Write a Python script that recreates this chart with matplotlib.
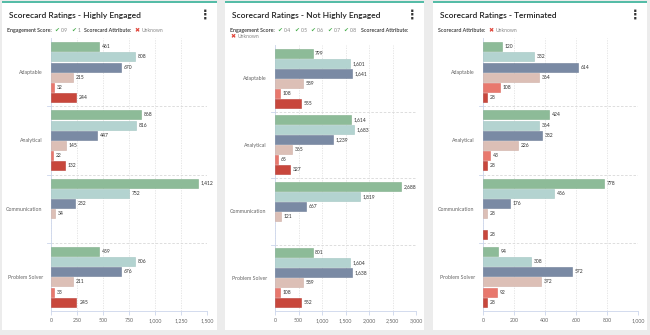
import matplotlib
matplotlib.use("Agg")
import matplotlib.pyplot as plt
from matplotlib.patches import Rectangle
from matplotlib.ticker import FuncFormatter

W, H = 650, 335
FONT = ["Lato", "DejaVu Sans"]
plt.rcParams["font.family"] = FONT

categories = ["Adaptable", "Analytical", "Communication", "Problem Solver"]

# one row per series, one column per category (None = no bar)
highly_engaged = [
    [461, 868, 1412, 459],
    [808, 816, 752, 806],
    [670, 447, 232, 676],
    [215, 145, 34, 211],
    [32, 22, None, 33],
    [244, 132, None, 245],
]
not_highly_engaged = [
    [799, 1614, 2688, 801],
    [1601, 1683, 1819, 1604],
    [1641, 1239, 667, 1638],
    [589, 365, 121, 589],
    [108, 65, None, 108],
    [555, 327, None, 552],
]
terminated = [
    [120, 424, 778, 94],
    [332, 364, 456, 308],
    [614, 382, 176, 572],
    [364, 226, 28, 372],
    [108, 43, None, 92],
    [28, 28, 28, 28],
]

titles = [
    "Scorecard Ratings - Highly Engaged",
    "Scorecard Ratings - Not Highly Engaged",
    "Scorecard Ratings - Terminated",
]
score_filters = [["0.9", "1"], ["0.4", "0.5", "0.6", "0.7", "0.8"], []]
x_max = [1500, 3000, 1000]
x_step = [250, 500, 200]

colors = ["#8dbb98", "#b3d3d0", "#7a8aa4", "#dcbfb6", "#e8786d", "#c8473c"]
edges = ["#7fae8a", "#a3c6c3", "#6d7d97", "#cfb0a7", "#dc6a5f", "#b93d33"]

# card (left, right) and plot area (left, top, right, bottom) in pixels
cards = [(2, 217), (225, 424), (433, 647)]
plots = [(51, 38, 207, 311), (275, 45, 416, 311), (483, 38, 638, 311)]


def px_rect(l, t, r, b):
    return [l / W, 1 - b / H, (r - l) / W, (b - t) / H]


fig = plt.figure(figsize=(W / 100, H / 100), dpi=100)
fig.patch.set_facecolor("#ececec")

for l, r in cards:
    fig.patches.append(Rectangle((l / W, 1 - 330 / H), (r - l) / W, 328 / H,
                                 transform=fig.transFigure, facecolor="white",
                                 edgecolor="none", zorder=-3))
    fig.patches.append(Rectangle((l / W, 1 - 3 / H), (r - l) / W, 2 / H,
                                 transform=fig.transFigure, facecolor="#55bca7",
                                 edgecolor="none", zorder=-2))

fig.canvas.draw()
renderer = fig.canvas.get_renderer()


def put(x, y, s, **kw):
    t = fig.text(x / W, 1 - y / H, s, va="center", **kw)
    bb = t.get_window_extent(renderer)
    return x + bb.width


datasets = [highly_engaged, not_highly_engaged, terminated]

for p, data in enumerate(datasets):
    cl, cr = cards[p]
    # header
    fig.text((cl + 7) / W, 1 - 15.5 / H, titles[p], fontsize=6.0,
             fontweight="semibold", color="#222222", va="center")
    fig.text((cr - 12) / W, 1 - 15.5 / H, "\u22ee", fontsize=9,
             fontweight="bold", color="#333333", va="center", ha="center",
             family=["DejaVu Sans"])

    # filter legend row(s)
    x, y = cl + 5, 30.5
    lw = cr - 8
    if score_filters[p]:
        x = put(x, y, "Engagement Score:", fontsize=3.8, color="#333333",
                fontweight="semibold") + 3
        for s in score_filters[p]:
            x = put(x, y, "\u2714", fontsize=4.2, color="#4caf50",
                    family=["DejaVu Sans"]) + 1.5
            x = put(x, y, s, fontsize=3.7, color="#888888") + 3
        x += 1
    x = put(x, y, "Scorecard Attribute:", fontsize=3.8, color="#333333",
            fontweight="semibold") + 3
    if x + 28 > lw:
        x, y = cl + 5, 37
    x = put(x, y, "\u2716", fontsize=4.4, color="#e0453a",
            family=["DejaVu Sans"]) + 2
    put(x, y, "Unknown", fontsize=3.7, color="#888888")

    ax = fig.add_axes(px_rect(*plots[p]))
    ax.set_facecolor("none")
    n = len(data)
    slot = 0.9 / n
    for k, row in enumerate(data):
        for i, v in enumerate(row):
            if v is None:
                continue
            yc = i - 0.45 + slot * (k + 0.5)
            ax.barh(yc, v, height=slot * 0.88, color=colors[k],
                    edgecolor=edges[k], linewidth=0.4, zorder=3)
            ax.text(v + x_max[p] * 0.018, yc, f"{v:,}", fontsize=3.6,
                    color="#333333", va="center", ha="left", zorder=4)

    ax.set_xlim(0, x_max[p])
    ax.set_ylim(len(categories) - 0.5, -0.5)
    ax.set_xticks(range(0, x_max[p] + 1, x_step[p]))
    ax.xaxis.set_major_formatter(FuncFormatter(lambda v, _: f"{int(v):,}"))
    ax.tick_params(axis="x", labelsize=3.8, colors="#ccd6eb", labelcolor="#666666",
                   length=3, width=0.6, pad=2)
    ax.set_yticks(range(len(categories)))
    ax.set_yticklabels(categories)
    ax.tick_params(axis="y", labelsize=3.8, labelcolor="#666666", length=0, pad=6)

    # dashed separators between categories and dotted vertical grid
    for b in [i + 0.5 for i in range(len(categories) - 1)]:
        ax.axhline(b, color="#d8d8d8", linewidth=0.6, linestyle=(0, (3, 2)), zorder=1)
        ax.plot([-0.025 * x_max[p], 0], [b, b], color="#ccd6eb", linewidth=0.6,
                clip_on=False, zorder=1)
    ax.grid(axis="x", color="#e2e2e2", linewidth=0.6, linestyle=(0, (1.5, 1.5)), zorder=0)
    ax.set_axisbelow(True)

    for side in ["top", "right"]:
        ax.spines[side].set_visible(False)
    ax.spines["left"].set_color("#ccd6eb")
    ax.spines["left"].set_linewidth(0.6)
    ax.spines["bottom"].set_color("#ccd6eb")
    ax.spines["bottom"].set_linewidth(0.6)

fig.savefig("out.png", dpi=100, facecolor=fig.get_facecolor())
